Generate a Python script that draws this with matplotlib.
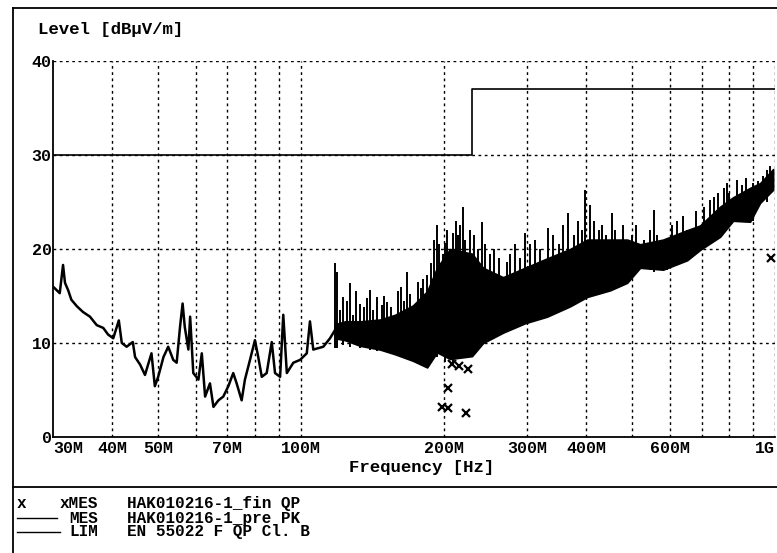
import matplotlib
matplotlib.use('Agg')
import matplotlib.pyplot as plt
from matplotlib.lines import Line2D

# pre-scan peak trace, low band (MHz, dBuV/m)
trace_freq = [30.0, 31.0, 31.5, 31.8, 32.3, 32.8, 33.7, 34.7, 35.9, 37.1, 38.3, 39.2,
              40.2, 41.3, 41.9, 42.9, 44.2, 44.7, 45.8, 46.9, 48.4, 49.2, 50.0, 51.3,
              52.5, 53.8, 54.7, 55.6, 56.3, 56.9, 57.9, 58.4, 59.3, 60.8, 61.8, 62.8,
              64.3, 65.4, 67.0, 68.6, 70.3, 72.0, 73.2, 75.0, 76.2, 78.1, 80.0, 81.3,
              82.7, 84.7, 86.8, 88.2, 90.4, 91.8, 93.4, 96.4, 99.6, 102.9, 104.5, 106.2,
              111.5, 115.2, 118.1]
trace_level = [16.0, 15.3, 18.3, 16.4, 15.6, 14.6, 13.9, 13.3, 12.8, 11.9, 11.6, 10.9,
               10.5, 12.4, 10.0, 9.6, 10.1, 8.5, 7.7, 6.6, 8.9, 5.4, 6.4, 8.5,
               9.6, 8.2, 7.9, 11.7, 14.2, 11.7, 9.3, 12.8, 6.8, 6.1, 8.9, 4.3,
               5.7, 3.2, 3.9, 4.3, 5.4, 6.8, 5.7, 3.9, 6.1, 8.2, 10.3, 8.5,
               6.4, 6.8, 10.1, 6.8, 6.4, 13.0, 6.8, 7.9, 8.2, 8.9, 12.3, 9.3,
               9.6, 10.5, 11.4]

# pre-scan peak trace, dense band above ~118 MHz: lower / upper edge
band_freq = [118.1, 123.9, 133.3, 146.9, 158.0, 172.4, 184.6, 193.7, 206.4, 229.6,
             242.3, 267.0, 297.0, 330.6, 369.7, 401.7, 449.0, 487.7, 519.4, 580.8,
             652.7, 695.0, 766.0, 816.0, 886.0, 930.0, 991.0]
band_low = [10.5, 10.3, 9.7, 9.3, 8.8, 8.1, 7.4, 9.0, 8.3, 8.6,
            10.0, 11.1, 12.1, 12.8, 13.9, 14.9, 15.6, 16.4, 18.0, 17.8,
            18.8, 19.9, 21.3, 23.0, 22.9, 24.9, 26.3]
band_high = [12.0, 12.3, 12.3, 12.5, 13.0, 14.0, 15.5, 18.0, 20.0, 19.5,
             18.0, 17.0, 18.0, 19.0, 20.0, 21.0, 21.0, 21.0, 20.5, 21.0,
             22.0, 22.5, 24.5, 25.5, 26.5, 27.0, 28.5]

# single peaks / dips sticking out of the band
spike_freq = [118.1, 119.0, 121, 122.9, 125, 127.0, 129, 131, 133.3, 136,
              138, 140.0, 142, 144.6, 148, 150, 151.7, 155, 160.3, 163,
              165, 167.3, 170, 174, 176.6, 179, 181, 184.3, 188, 191,
              193.5, 196, 199, 201.4, 203, 206, 209.4, 212, 214, 217,
              219.5, 222, 227.4, 232, 236, 240.8, 245, 250, 256, 262,
              271.8, 276, 283, 290, 297.0, 305, 312, 320, 332.6, 340,
              350, 358, 366.6, 376, 385, 392, 397.8, 407.4, 415, 425,
              432, 440, 452.7, 460, 470, 478.2, 500, 510, 530, 545,
              554.5, 565, 591.4, 605, 620, 640, 652.7, 680, 710, 729.7,
              745, 760, 780, 791.5, 800, 831.0, 850, 870, 900.6, 920,
              945, 961.0, 975]
spike_low = [9.5, 9.5, 10.3, 9.8, 10.2, 9.6, 10.0, 9.9, 9.5, 9.6,
             9.5, 9.3, 9.4, 9.2, 9.3, 9.2, 9.0, 9.0, 8.8, 8.6,
             8.5, 8.5, 8.2, 8.0, 8.0, 7.7, 7.6, 7.5, 8.0, 8.5,
             8.5, 8.8, 8.6, 8.0, 8.4, 8.3, 8.0, 8.3, 8.4, 8.4,
             8.5, 8.5, 8.6, 9.5, 9.8, 10.0, 10.2, 10.4, 10.7, 11.0,
             11.2, 11.4, 11.7, 12.0, 12.1, 12.3, 12.5, 12.7, 12.8, 13.0,
             13.3, 13.7, 13.9, 14.1, 14.5, 14.8, 14.9, 15.0, 15.1, 15.3,
             15.4, 15.5, 15.6, 15.8, 16.1, 16.2, 17.0, 17.5, 17.9, 17.8,
             17.5, 17.8, 17.8, 18.3, 18.6, 18.8, 18.8, 19.5, 20.5, 21.0,
             21.5, 22.3, 22.5, 22.5, 22.8, 23.0, 23.0, 23.0, 23.0, 24.5,
             25.3, 25.0, 26.0]
spike_high = [18.5, 17.6, 13.5, 14.9, 14.5, 16.4, 13.0, 15.5, 14.2, 13.8,
              14.8, 15.6, 13.5, 14.9, 14.0, 15.0, 14.4, 13.8, 15.5, 16.0,
              14.5, 17.6, 15.2, 14.0, 16.5, 15.8, 16.8, 17.2, 18.5, 21.0,
              22.6, 20.5, 19.5, 20.6, 22.0, 20.0, 21.7, 23.0, 21.5, 22.5,
              24.5, 21.0, 22.0, 21.5, 20.0, 22.9, 20.5, 19.5, 20.0, 19.0,
              18.6, 19.5, 20.5, 19.0, 21.7, 20.5, 21.0, 20.0, 22.2, 21.5,
              20.5, 22.5, 23.8, 21.5, 23.0, 22.0, 26.3, 24.7, 23.0, 22.0,
              22.5, 21.5, 23.8, 22.0, 21.0, 22.6, 21.5, 22.5, 21.0, 22.0,
              24.1, 21.5, 21.0, 22.5, 23.0, 23.5, 22.0, 24.0, 24.5, 25.2,
              25.5, 26.0, 26.5, 27.0, 26.0, 27.3, 26.8, 27.5, 27.0, 27.2,
              27.8, 28.4, 28.8]

# final quasi-peak measurements
qp_freq = [208, 216, 225, 204, 198, 204, 223, 982]
qp_level = [7.8, 7.6, 7.2, 5.2, 3.2, 3.1, 2.5, 19.0]

# EN 55022 class B limit
lim_freq = [30, 230, 230, 1000]
lim_level = [30, 30, 37, 37]

xtick_freq = [30, 40, 50, 70, 100, 200, 300, 400, 600, 1000]
xtick_text = ['30M', '40M', '50M', '70M', '100M', '200M', '300M', '400M', '600M', '1G']
grid_freq = [40, 50, 60, 70, 80, 90, 100, 200, 300, 400, 500, 600, 700, 800, 900, 1000]
ytick_level = [0, 10, 20, 30, 40]

legend_rows = [('xMES', 'HAK010216-1_fin QP'),
               ('MES', 'HAK010216-1_pre PK'),
               ('LIM', 'EN 55022 F QP Cl. B')]

mono = 'Liberation Mono'

fig = plt.figure(figsize=(7.77, 5.53), dpi=100)
ax = fig.add_axes([0.0682, 0.2098, 0.9292, 0.6799])
ax.set_xscale('log')
ax.set_xlim(30, 1000)
ax.set_ylim(0, 40)

# grid
for f in grid_freq:
    ax.axvline(f, color='black', lw=1.0, ls=(0, (2, 2.5)), zorder=1)
for lv in ytick_level[1:]:
    ax.axhline(lv, color='black', lw=1.0, ls=(0, (2, 2.5)), zorder=1)

# traces
ax.plot(trace_freq, trace_level, color='black', lw=1.8, zorder=3)
ax.fill_between(band_freq, band_low, band_high, color='black', lw=1.2,
                edgecolor='black', zorder=3)
ax.vlines(spike_freq, spike_low, spike_high, color='black', lw=1.4, zorder=3)
ax.plot(lim_freq, lim_level, color='black', lw=1.2, zorder=3)
ax.plot(qp_freq, qp_level, ls='none', marker='x', ms=6, mew=1.6,
        color='black', zorder=4)

# axes look
for side in ['top', 'right']:
    ax.spines[side].set_visible(False)
ax.spines['left'].set_linewidth(1.3)
ax.spines['bottom'].set_linewidth(1.3)
ax.tick_params(length=0)
ax.minorticks_off()
ax.set_xticks(xtick_freq)
ax.set_xticklabels(xtick_text, family=mono, fontsize=12, fontweight='bold')
labels = ax.get_xticklabels()
labels[0].set_ha('left')
labels[-1].set_ha('right')
ax.set_yticks(ytick_level)
ax.set_yticklabels([str(v) for v in ytick_level], family=mono, fontsize=12,
                   fontweight='bold')
ax.tick_params(axis='x', pad=3)
ax.tick_params(axis='y', pad=1)

fig.text(0.049, 0.947, 'Level [dB\u00b5V/m]', family=mono, fontsize=12.5,
         fontweight='bold', va='center')
fig.text(0.543, 0.154, 'Frequency [Hz]', family=mono, fontsize=12.5,
         fontweight='bold', ha='center', va='center')

# outer frame and separator
for xs, ys in [([0.0167, 1.0], [0.9855, 0.9855]),
               ([0.0167, 0.0167], [0.0, 0.9855]),
               ([0.0167, 1.0], [0.1193, 0.1193])]:
    fig.add_artist(Line2D(xs, ys, color='black', lw=1.3,
                          transform=fig.transFigure))

# legend block
row_y = [0.090, 0.063, 0.038]
fig.text(0.022, row_y[0], 'x', family=mono, fontsize=11.5, fontweight='bold',
         ha='left', va='center')
for (name, desc), yy in zip(legend_rows, row_y):
    fig.text(0.126, yy, name, family=mono, fontsize=11.5, fontweight='bold',
             ha='right', va='center')
    fig.text(0.163, yy, desc, family=mono, fontsize=11.5, fontweight='bold',
             ha='left', va='center')
fig.add_artist(Line2D([0.022, 0.073], [row_y[1], row_y[1]], color='black', lw=1.0,
                      transform=fig.transFigure))
fig.add_artist(Line2D([0.022, 0.077], [row_y[2], row_y[2]], color='black', lw=1.0,
                      transform=fig.transFigure))

fig.savefig('out.png', dpi=100)
